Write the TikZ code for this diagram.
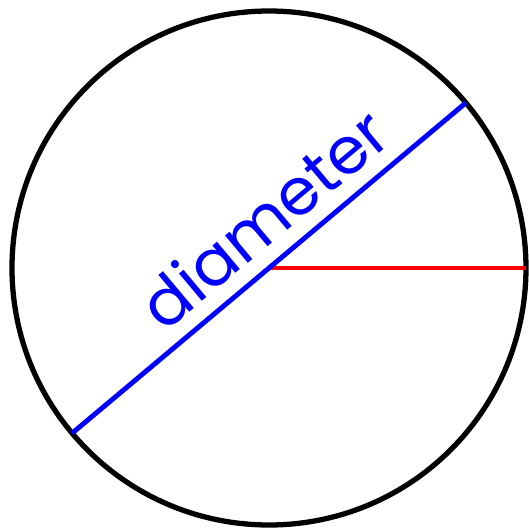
\documentclass[tikz,border=0pt]{standalone}
\usepackage{fontspec}
\newfontfamily\handfont{Poppins}
\definecolor{rimblack}{RGB}{0, 0, 0}
\definecolor{diamblue}{RGB}{0, 0, 255}
\definecolor{radred}{RGB}{255, 0, 0}
\usetikzlibrary{calc}
\tikzset{
	rim/.style={draw=rimblack, line width=3pt},
	diam/.style={draw=diamblue, line width=2.8pt},
	rad/.style={draw=radred, line width=2.8pt},
	handlabel/.style={text=diamblue, font=\handfont\fontsize{37}{40}\selectfont, inner sep=0pt},
}

\begin{document}
\begin{tikzpicture}[x=0.02cm, y=0.02cm]
	\useasboundingbox (0,0) rectangle (529,529);
	\coordinate (O) at (269,261);
	\coordinate (A) at ($(O)+(220:257)$);
	\coordinate (B) at ($(O)+(40:257)$);
	\coordinate (R) at ($(O)+(0:257)$);
	\draw[rim] (O) circle (257);
	\draw[rad] (O) -- (R);
	\draw[diam] (A) -- (B);
	\node[handlabel, rotate=40, anchor=base] (lbl) at ($(O)+(40:28)+(130:17)$) {diameter};
\end{tikzpicture}
\end{document}
